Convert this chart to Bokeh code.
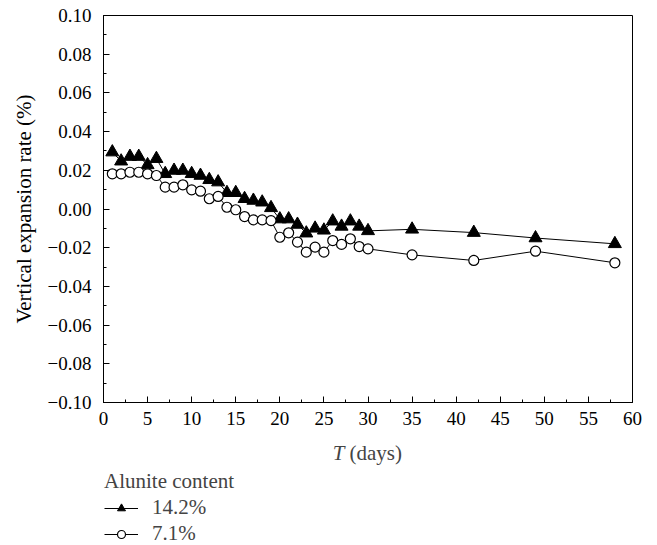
from bokeh.plotting import figure
from bokeh.layouts import column
from bokeh.models import (Range1d, SingleIntervalTicker, CustomJSTickFormatter,
                          Legend, LegendItem, Label)
from bokeh.embed import file_html
from bokeh.resources import INLINE

# Curing time (days)
days = [1, 2, 3, 4, 5, 6, 7, 8, 9, 10, 11, 12, 13, 14, 15, 16, 17, 18, 19,
        20, 21, 22, 23, 24, 25, 26, 27, 28, 29, 30, 35, 42, 49, 58]

# Vertical expansion rate (%) for alunite content 14.2 %
rate_142 = [0.0294, 0.0247, 0.0271, 0.0271, 0.0228, 0.0260, 0.0182, 0.0199,
            0.0199, 0.0182, 0.0173, 0.0151, 0.0139, 0.0084, 0.0084, 0.0053,
            0.0044, 0.0035, 0.0006, -0.0052, -0.0052, -0.0080, -0.0125,
            -0.0100, -0.0110, -0.0063, -0.0090, -0.0063, -0.0090, -0.0113,
            -0.0105, -0.0122, -0.0150, -0.0180]

# Vertical expansion rate (%) for alunite content 7.1 %
rate_71 = [0.0182, 0.0182, 0.0190, 0.0190, 0.0182, 0.0173, 0.0113, 0.0113,
           0.0125, 0.0099, 0.0092, 0.0053, 0.0065, 0.0009, -0.0004, -0.0039,
           -0.0056, -0.0056, -0.0060, -0.0146, -0.0123, -0.0171, -0.0223,
           -0.0197, -0.0223, -0.0163, -0.0183, -0.0154, -0.0194, -0.0206,
           -0.0237, -0.0266, -0.0218, -0.0278]

series_labels = ["14.2%", "7.1%"]
legend_title = "Alunite content"
x_label_var = "T"
x_label_unit = "(days)"
y_label = "Vertical expansion rate (%)"

SERIF = "Liberation Serif"
TICK_FS = "19px"
LABEL_FS = "21px"
W = 657
FRAME_L, FRAME_R = 103, 632   # frame edges shared by the stacked panels

TRI = dict(marker="triangle", size=13, fill_color="black", line_color="black")
CIRC = dict(marker="circle", size=10, fill_color="white", line_color="black",
            line_width=1.2)
LINE = dict(line_color="black", line_width=1)

# ---- main chart -----------------------------------------------------------
p = figure(width=W, height=440, output_backend="svg", toolbar_location=None,
           x_range=Range1d(0, 60), y_range=Range1d(-0.10, 0.10),
           min_border_left=FRAME_L, min_border_right=W - FRAME_R,
           min_border_top=15, min_border_bottom=38)
p.background_fill_color = "white"
p.border_fill_color = "white"
p.grid.visible = False
p.outline_line_color = "black"
p.outline_line_width = 1

p.xaxis.ticker = SingleIntervalTicker(interval=5, num_minor_ticks=2)
p.yaxis.ticker = SingleIntervalTicker(interval=0.02, num_minor_ticks=2)
p.yaxis.formatter = CustomJSTickFormatter(code="""
    const v = Math.abs(tick) < 1e-9 ? 0 : tick;
    return (v < 0 ? '\u2212' : '') + Math.abs(v).toFixed(2);
""")

for ax in (p.xaxis[0], p.yaxis[0]):
    ax.axis_line_color = "black"
    ax.axis_line_width = 1
    ax.major_tick_in = 6
    ax.major_tick_out = 0
    ax.minor_tick_in = 3
    ax.minor_tick_out = 0
    ax.major_tick_line_color = "black"
    ax.minor_tick_line_color = "black"
    ax.major_label_text_font = SERIF
    ax.major_label_text_font_size = TICK_FS
    ax.major_label_text_color = "black"
    ax.axis_label_text_font = SERIF
    ax.axis_label_text_font_size = LABEL_FS
    ax.axis_label_text_font_style = "normal"
    ax.axis_label_text_color = "black"

p.xaxis.major_label_standoff = 9
p.yaxis.major_label_standoff = 12
p.yaxis.axis_label = y_label
p.yaxis.axis_label_standoff = 9

p.line(days, rate_142, **LINE)
p.scatter(days, rate_142, **TRI)
p.line(days, rate_71, **LINE)
p.scatter(days, rate_71, **CIRC)


def blank(height, x_range, y_range, top=0):
    f = figure(width=W, height=height, output_backend="svg",
               toolbar_location=None, x_axis_location=None,
               y_axis_location=None, x_range=x_range, y_range=y_range,
               min_border_left=FRAME_L, min_border_right=W - FRAME_R,
               min_border_top=top, min_border_bottom=0)
    f.grid.visible = False
    f.outline_line_color = None
    f.background_fill_color = "white"
    f.border_fill_color = "white"
    return f


# ---- x-axis title (italic variable, upright unit); x in page pixels --------
xt = blank(25, Range1d(FRAME_L, FRAME_R), Range1d(25, 0))
xt.add_layout(Label(x=344, y=12, text=x_label_var, text_font=SERIF,
                    text_font_size=LABEL_FS, text_font_style="italic",
                    text_align="right", text_baseline="middle"))
xt.add_layout(Label(x=349, y=12, text=x_label_unit, text_font=SERIF,
                    text_font_size=LABEL_FS, text_align="left",
                    text_baseline="middle"))

# ---- legend (its glyphs sit outside this panel's view) ---------------------
lg = blank(80, Range1d(1000, 1001), Range1d(1000, 1001), top=3)
r1 = [lg.line(days, rate_142, **LINE), lg.scatter(days, rate_142, **TRI)]
r2 = [lg.line(days, rate_71, **LINE), lg.scatter(days, rate_71, **CIRC)]
legend = Legend(items=[LegendItem(label=series_labels[0], renderers=r1),
                       LegendItem(label=series_labels[1], renderers=r2)],
                location="top_left", title=legend_title,
                title_text_font=SERIF, title_text_font_size=LABEL_FS,
                title_text_font_style="normal", title_standoff=1,
                label_text_font=SERIF, label_text_font_size=LABEL_FS,
                glyph_width=34, glyph_height=20, label_standoff=14,
                spacing=1, padding=1, margin=0,
                background_fill_alpha=0, border_line_alpha=0)
lg.add_layout(legend)

layout = column(p, xt, lg, spacing=0)
open("out.html", "w").write(file_html(layout, INLINE))
